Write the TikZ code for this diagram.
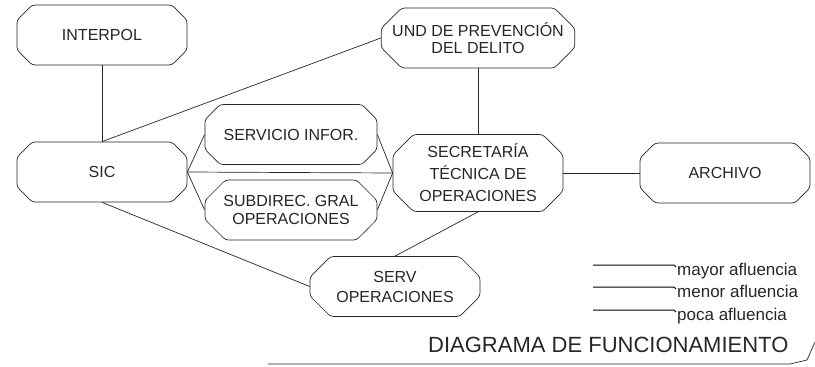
\documentclass[tikz,border=0pt]{standalone}
\usepackage{fontspec}
\setmainfont{Liberation Sans}
\usetikzlibrary{shapes.misc}
\definecolor{ink}{gray}{0.15}
\tikzset{
  unit/.style={chamfered rectangle, chamfered rectangle xsep=11pt, chamfered rectangle ysep=9.5pt,
    draw=ink, line width=0.7pt, rounded corners=3pt, minimum width=170pt, minimum height=60pt, inner sep=0pt,
    align=center, text=ink, font=\fontsize{16}{20}\selectfont},
  link/.style={draw=ink, line width=0.7pt},
  legline/.style={draw=black, line width=1pt},
  legtext/.style={anchor=base west, inner sep=0pt, text=ink, font=\fontsize{17}{20}\selectfont}
}
\begin{document}
\begin{tikzpicture}[x=1pt,y=-1pt]
\useasboundingbox (0,0) rectangle (815,367);
\node[unit] (interpol) at (102,35) {INTERPOL};
\node[unit] (sic) at (102,172) {SIC};
\node[unit, minimum width=172pt] (servinfo) at (291,134.5) {SERVICIO INFOR.};
\node[unit, minimum width=172pt, font=\fontsize{16}{18.5}\selectfont] (subdir) at (291,210) {SUBDIREC. GRAL\\OPERACIONES};
\node[unit, font=\fontsize{16}{21.5}\selectfont] (und) at (478,38) {\raisebox{-3pt}{\shortstack{UND DE PREVENCIÓN\\[3pt]DEL DELITO}}};
\node[unit, font=\fontsize{16}{22}\selectfont] (sec) at (478,173) {SECRETARÍA\\TÉCNICA DE\\OPERACIONES};
\node[unit] (archivo) at (725,173) {ARCHIVO};
\node[unit, font=\fontsize{16}{20}\selectfont] (serv) at (395,286.5) {SERV\\OPERACIONES};

\draw[link] (interpol.south) -- (sic.north);
\draw[link] (sic.north) -- (und.west);
\draw[link] (sic.east) -- (sec.west);
\draw[link] (sic.east) -- (servinfo.west);
\draw[link] (sic.east) -- (subdir.west);
\draw[link] (servinfo.east) -- (sec.west);
\draw[link] (subdir.east) -- (sec.west);
\draw[link] (und.south) -- (sec.north);
\draw[link] (sec.east) -- (archivo.west);
\draw[link] (sec.south) -- (serv.north);
\draw[link] (sic.south) -- (serv.west);

% legend
\coordinate (l1a) at (593,265); \coordinate (l1b) at (674,265);
\coordinate (l2a) at (593,287); \coordinate (l2b) at (674,287);
\coordinate (l3a) at (593,310); \coordinate (l3b) at (674,310);
\draw[legline] (l1a) -- (l1b) -- ++(2,2);
\draw[legline] (l2a) -- (l2b) -- ++(2,2);
\draw[legline] (l3a) -- (l3b) -- ++(2,2);
\node[legtext] (t1) at (677,275) {mayor afluencia};
\node[legtext] (t2) at (677,297) {menor afluencia};
\node[legtext] (t3) at (677,320) {poca afluencia};

% title
\node[anchor=base west, inner sep=0pt, text=ink, font=\fontsize{22}{24}\selectfont] (title) at (428,352) {DIAGRAMA DE FUNCIONAMIENTO};
\coordinate (b0) at (268,364);
\coordinate (b1) at (790,364);
\coordinate (b2) at (807,360);
\coordinate (b3) at (815,342);
\draw[link] (b0) -- (b1) -- (b2);
\draw[link] (b2) -- (b3);
\end{tikzpicture}
\end{document}
